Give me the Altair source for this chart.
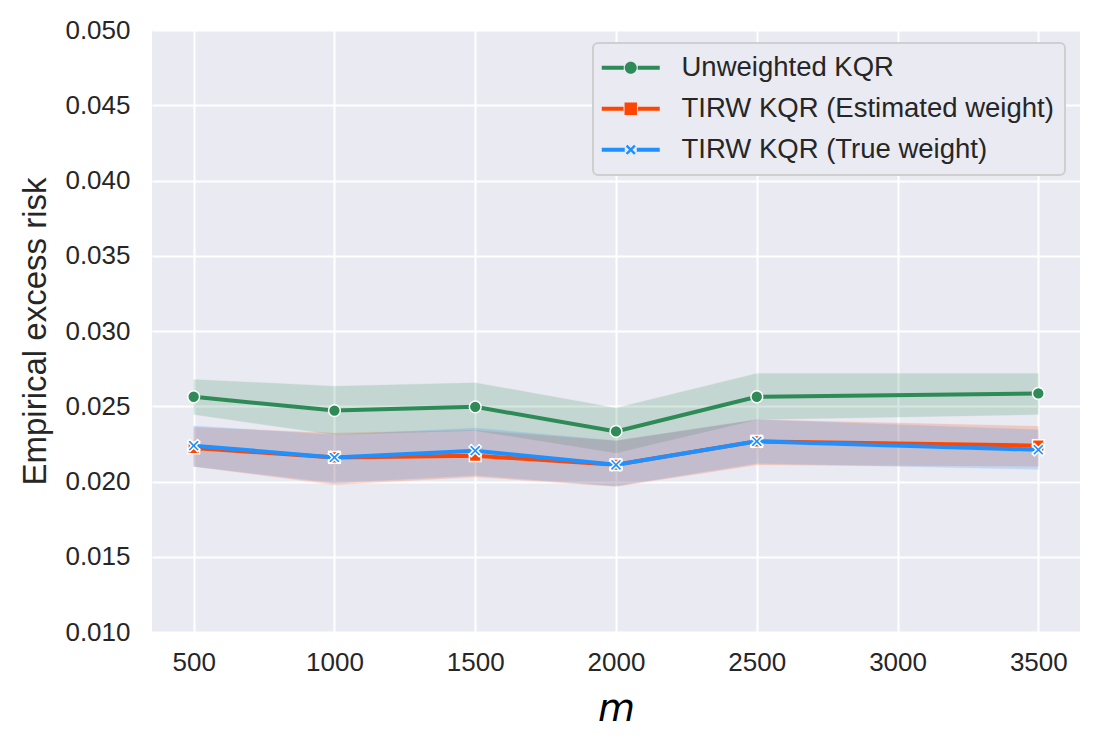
import altair as alt
import pandas as pd

# ---- data ----
m_values = [500, 1000, 1500, 2000, 2500, 3500]
series_names = ["Unweighted KQR", "TIRW KQR (Estimated weight)", "TIRW KQR (True weight)"]
series_colors = ["#2E8B57", "#FF4500", "#1E90FF"]

unw_mean = [0.02563, 0.02471, 0.02496, 0.02333, 0.02563, 0.02585]
unw_lo = [0.02445, 0.02311, 0.02338, 0.02189, 0.02411, 0.02445]
unw_hi = [0.02678, 0.02633, 0.02656, 0.02489, 0.02718, 0.02718]

est_mean = [0.02223, 0.02160, 0.02171, 0.02111, 0.02267, 0.02238]
est_lo = [0.02100, 0.01978, 0.02030, 0.01967, 0.02110, 0.02100]
est_hi = [0.02360, 0.02322, 0.02340, 0.02270, 0.02411, 0.02367]

tru_mean = [0.02238, 0.02160, 0.02205, 0.02111, 0.02267, 0.02211]
tru_lo = [0.02100, 0.01990, 0.02040, 0.01970, 0.02120, 0.02080]
tru_hi = [0.02370, 0.02310, 0.02356, 0.02270, 0.02411, 0.02344]

x_ticks = [500, 1000, 1500, 2000, 2500, 3000, 3500]
y_ticks = [0.010, 0.015, 0.020, 0.025, 0.030, 0.035, 0.040, 0.045, 0.050]

rows = []
for name, means, los, his in zip(series_names,
                                 [unw_mean, est_mean, tru_mean],
                                 [unw_lo, est_lo, tru_lo],
                                 [unw_hi, est_hi, tru_hi]):
    for m, mu, lo, hi in zip(m_values, means, los, his):
        rows.append({"m": m, "series": name, "mean": mu, "lo": lo, "hi": hi})
df = pd.DataFrame(rows)

# marker shapes
X_PATH = ("M-1,-0.64L-0.64,-1L0,-0.36L0.64,-1L1,-0.64L0.36,0L1,0.64L0.64,1"
          "L0,0.36L-0.64,1L-1,0.64L-0.36,0Z")
plot_shapes = ["circle", "square", X_PATH]
plot_sizes = [140, 135, 150]

# legend symbols: line segment + marker
LEG_CIRCLE = ("M-1.6,-0.2L0.6,-0.2L0.6,0.2L-1.6,0.2Z M2.0,-0.2L4.2,-0.2L4.2,0.2L2.0,0.2Z "
              "M1.9,0A0.6,0.6 0 1,1 0.7,0A0.6,0.6 0 1,1 1.9,0Z")
LEG_SQUARE = ("M-1.6,-0.2L0.58,-0.2L0.58,0.2L-1.6,0.2Z M2.02,-0.2L4.2,-0.2L4.2,0.2L2.02,0.2Z "
              "M0.68,-0.62L1.92,-0.62L1.92,0.62L0.68,0.62Z")
LEG_X = ("M-1.6,-0.2L0.7,-0.2L0.7,0.2L-1.6,0.2Z M1.9,-0.2L4.2,-0.2L4.2,0.2L1.9,0.2Z "
         "M0.8,-0.33L0.97,-0.5L1.3,-0.17L1.63,-0.5L1.8,-0.33L1.47,0L1.8,0.33L1.63,0.5"
         "L1.3,0.17L0.97,0.5L0.8,0.33L1.13,0Z")
legend_shapes = [LEG_CIRCLE, LEG_SQUARE, LEG_X]

x_scale = alt.Scale(domain=[352, 3648], nice=False, zero=False)
y_scale = alt.Scale(domain=[0.010, 0.050], nice=False, zero=False)
color_scale = alt.Scale(domain=series_names, range=series_colors)

x_axis = alt.Axis(values=x_ticks, title="m", format="d", labelFlush=False,
                  titleFont="DejaVu Sans", titleFontStyle="italic", titleFontWeight="normal",
                  titleFontSize=38, titleColor="#000000",
                  titleX=464, titleY=88, titleBaseline="alphabetic", titleAlign="center",
                  labelPadding=17)
y_axis = alt.Axis(values=y_ticks, format=".3f", title="Empirical excess risk",
                  titleFontSize=33, titleFontWeight="normal", titleColor="#262626",
                  titleFont="Liberation Sans", titleAngle=270,
                  titleX=-117, titleY=301, titleBaseline="middle", titleAlign="center",
                  labelPadding=22)

base = alt.Chart(df)

X = alt.X("m:Q", scale=x_scale, axis=x_axis)
Y = alt.Y("mean:Q", scale=y_scale, axis=y_axis)

bands = base.mark_area(opacity=0.2, strokeWidth=1, strokeOpacity=0.25).encode(
    x=X,
    y=alt.Y("lo:Q", scale=y_scale, axis=y_axis),
    y2="hi:Q",
    color=alt.Color("series:N", scale=color_scale, legend=None),
    stroke=alt.Color("series:N", scale=color_scale, legend=None),
    detail="series:N",
)

layers = [bands]
for name, shp, sz in zip(series_names, plot_shapes, plot_sizes):
    sub = base.transform_filter(alt.datum.series == name)
    line = sub.mark_line(strokeWidth=4).encode(
        x=X, y=Y,
        color=alt.Color("series:N", scale=color_scale, legend=None),
    )
    pts = sub.mark_point(filled=True, shape=shp, size=sz, opacity=1,
                         stroke="white", strokeWidth=1.5).encode(
        x=X, y=Y,
        color=alt.Color("series:N", scale=color_scale, legend=None),
    )
    layers += [line, pts]

leg = alt.Legend(title=None, orient="none", legendX=441, legendY=13)
legend_layer = base.transform_filter("false").mark_point(
    filled=True, size=400, opacity=1
).encode(
    x=X, y=Y,
    color=alt.Color("series:N", scale=color_scale, legend=leg),
    shape=alt.Shape("series:N", scale=alt.Scale(domain=series_names, range=legend_shapes),
                    legend=leg),
)
layers.append(legend_layer)

chart = alt.layer(*layers).resolve_legend(
    color="independent", shape="independent"
).properties(
    width=928,
    height=602,
    autosize=alt.AutoSizeParams(type="none"),
    padding={"left": 144, "top": 22, "right": 13, "bottom": 100},
    background="white",
).configure_view(
    fill="#EAEAF2", stroke=None
).configure_axis(
    domain=False, ticks=False, grid=True, gridColor="white", gridWidth=2,
    labelFont="Liberation Sans", labelFontSize=26, labelColor="#262626",
).configure_legend(
    labelFont="Liberation Sans", labelFontSize=27.5, labelColor="#262626",
    symbolSize=400, symbolStrokeWidth=0, symbolOpacity=1,
    labelOffset=50, rowPadding=12, padding=11,
    fillColor="#EAEAF2", strokeColor="#CFCFCF", strokeWidth=2, cornerRadius=5,
    labelLimit=600,
)

chart.save("out.html", embed_options={"renderer": "svg", "actions": False})
